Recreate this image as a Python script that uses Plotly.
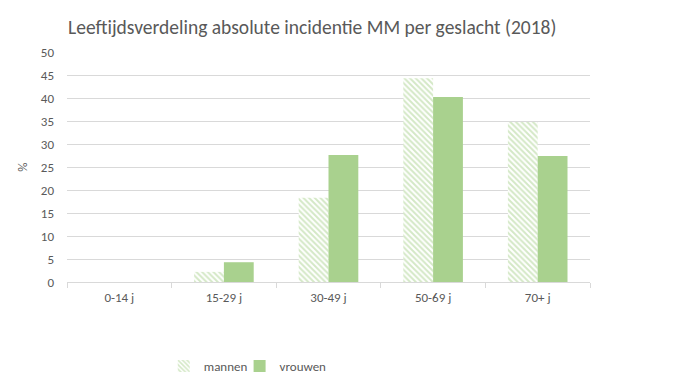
import plotly.graph_objects as go

categories = ["0-14 j", "15-29 j", "30-49 j", "50-69 j", "70+ j"]
mannen = [0, 2.2, 18.3, 44.3, 34.8]
vrouwen = [0, 4.3, 27.6, 40.2, 27.4]
y_ticks = [0, 5, 10, 15, 20, 25, 30, 35, 40, 45, 50]

green = "#A9D18E"
txt = "#595959"
font_family = "Carlito, Calibri, Lato, sans-serif"

# page body has an 8px margin; compensate in layout margins
OFF = 8

fig = go.Figure()
fig.add_trace(go.Bar(
    x=categories, y=mannen, name="mannen", legend="legend",
    marker=dict(color="white", line=dict(width=0),
                pattern=dict(shape="\\", fgcolor=green, bgcolor="white", size=4, solidity=0.5)),
))
fig.add_trace(go.Bar(
    x=categories, y=vrouwen, name="vrouwen", legend="legend2",
    marker=dict(color=green, line=dict(width=0)),
))

leg_common = dict(orientation="h", xanchor="left", y=-0.365, yanchor="middle",
                  font=dict(size=13, color=txt), itemwidth=30,
                  bgcolor="rgba(0,0,0,0)")

fig.update_layout(
    width=679, height=388,
    margin=dict(l=67 - OFF, r=89 + OFF, t=52 - OFF, b=106 + OFF),
    paper_bgcolor="white", plot_bgcolor="white",
    font=dict(family=font_family, color=txt, size=13),
    title=dict(text="Leeftijdsverdeling absolute incidentie MM per geslacht (2018)",
               x=(68 - OFF) / 679, xanchor="left", y=1 - (27 - OFF) / 388, yanchor="middle",
               font=dict(size=19.5, color=txt)),
    barmode="group", bargap=0.43, bargroupgap=0,
    showlegend=True,
    legend=dict(x=0.185, **leg_common),
    legend2=dict(x=0.33, **leg_common),
    xaxis=dict(showgrid=False, showline=True, linecolor="#d9d9d9", linewidth=1,
               ticks="outside", tickson="boundaries", ticklen=5, tickcolor="#d9d9d9",
               tickfont=dict(size=13, color=txt), ticklabelstandoff=3),
    yaxis=dict(range=[0, 50], tickvals=y_ticks, showgrid=True, gridcolor="#d9d9d9",
               gridwidth=1, zeroline=False, showline=False, ticks="",
               tickfont=dict(size=13, color=txt), ticklabelstandoff=12,
               title=dict(text="%", font=dict(size=13, color=txt), standoff=10)),
)

fig.write_html("out.html")
